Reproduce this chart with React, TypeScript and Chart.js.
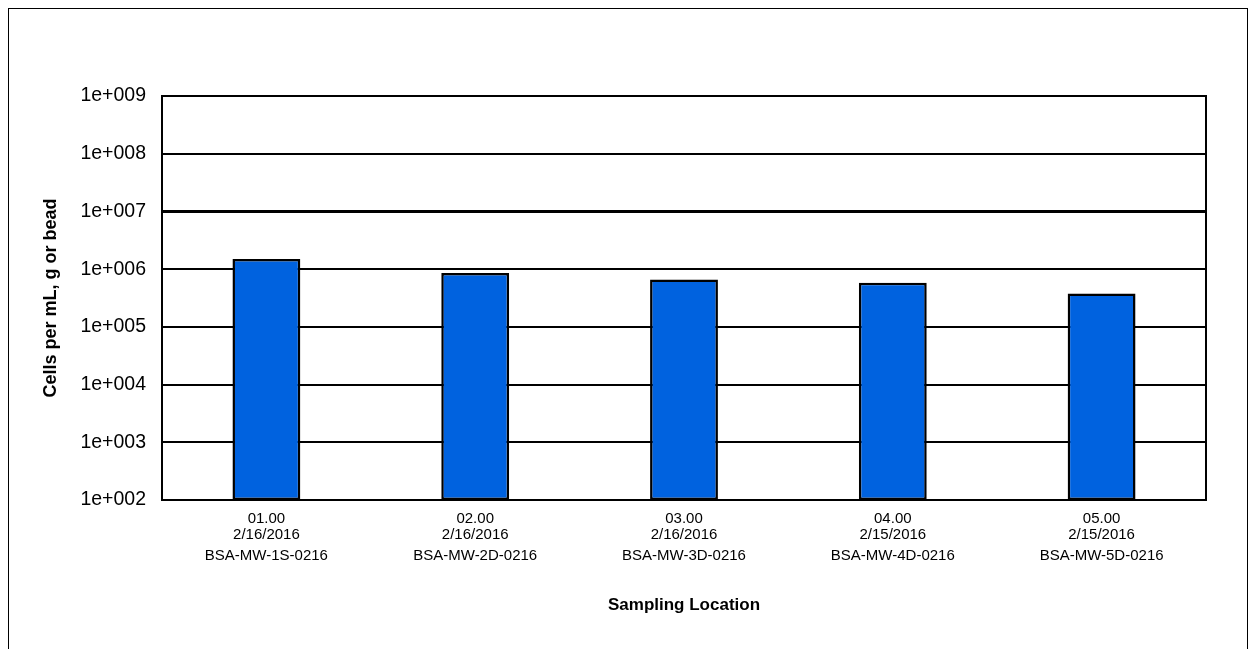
import React, { useEffect, useRef } from "react";
import { Chart, registerables } from "chart.js";

Chart.register(...registerables);

// Sampling points (well number, date) and sample IDs
const locations: string[][] = [
  ["01.00", "2/16/2016"],
  ["02.00", "2/16/2016"],
  ["03.00", "2/16/2016"],
  ["04.00", "2/15/2016"],
  ["05.00", "2/15/2016"],
];
const sampleIds: string[] = [
  "BSA-MW-1S-0216",
  "BSA-MW-2D-0216",
  "BSA-MW-3D-0216",
  "BSA-MW-4D-0216",
  "BSA-MW-5D-0216",
];
// Cell counts (cells per mL, g or bead)
const cellCounts: number[] = [1.5e6, 8.6e5, 6.6e5, 5.8e5, 3.8e5];
// Decade ticks on the log axis
const yTickValues: number[] = [1e2, 1e3, 1e4, 1e5, 1e6, 1e7, 1e8, 1e9];

const FONT = "Arial, 'Liberation Sans', Helvetica, sans-serif";

const fmtExp = (v: number) => {
  const e = Math.round(Math.log10(v));
  return "1e+" + String(e).padStart(3, "0");
};

// Draws the full rectangle around the plotting area on top of the bars
const framePlugin = {
  id: "plotFrame",
  afterDatasetsDraw(chart: any) {
    const { ctx, chartArea } = chart;
    ctx.save();
    ctx.strokeStyle = "#000";
    ctx.lineWidth = 2;
    ctx.strokeRect(chartArea.left, chartArea.top, chartArea.right - chartArea.left, chartArea.bottom - chartArea.top);
    ctx.restore();
  },
};

export default function App() {
  const canvasRef = useRef<HTMLCanvasElement | null>(null);

  useEffect(() => {
    if (!canvasRef.current) return;
    const chart = new Chart(canvasRef.current, {
      type: "bar",
      data: {
        labels: locations,
        datasets: [
          {
            data: cellCounts,
            backgroundColor: "#0062DF",
            borderColor: "#000",
            borderWidth: 2.5,
            borderSkipped: false,
            barPercentage: 0.325,
            categoryPercentage: 1,
            xAxisID: "x",
          },
        ],
      },
      plugins: [framePlugin],
      options: {
        animation: false,
        responsive: false,
        layout: { padding: { top: 87, right: 41, left: 0, bottom: 0 } },
        plugins: { legend: { display: false }, tooltip: { enabled: false } },
        scales: {
          x: {
            type: "category",
            position: "bottom",
            weight: 0,
            grid: { display: false, drawTicks: false },
            border: { display: false },
            ticks: {
              color: "#000",
              font: { family: FONT, size: 15, lineHeight: "16px" },
              padding: 11,
              maxRotation: 0,
              autoSkip: false,
            },
            afterFit(scale: any) {
              scale.height = 43;
            },
          },
          xId: {
            type: "category",
            position: "bottom",
            weight: 1,
            labels: sampleIds,
            grid: { display: false, drawTicks: false },
            border: { display: false },
            ticks: {
              color: "#000",
              font: { family: FONT, size: 15, lineHeight: "16px" },
              padding: 5,
              maxRotation: 0,
              autoSkip: false,
            },
            title: {
              display: true,
              text: "Sampling Location",
              color: "#000",
              font: { family: FONT, size: 17, weight: "bold" },
              padding: { top: 33.5, bottom: 33.5 },
            },
            afterFit(scale: any) {
              scale.height = 149 - 43;
            },
          },
          y: {
            type: "logarithmic",
            min: 1e2,
            max: 1e9,
            afterBuildTicks(scale: any) {
              scale.ticks = yTickValues.map((v) => ({ value: v, major: true }));
            },
            afterFit(scale: any) {
              scale.width = 153;
            },
            grid: {
              color: "#000",
              lineWidth: (ctx: any) => (ctx.tick && Math.abs(ctx.tick.value - 1e7) < 1 ? 3 : 2),
              drawTicks: false,
            },
            border: { display: true, color: "#000", width: 2 },
            ticks: {
              color: "#000",
              font: { family: FONT, size: 19.5 },
              padding: 16,
              callback: (v: any) => fmtExp(Number(v)),
            },
            title: {
              display: true,
              text: "Cells per mL, g or bead",
              color: "#000",
              font: { family: FONT, size: 18, weight: "bold" },
              padding: { top: 31, bottom: 31 },
            },
          },
        },
      },
    });
    return () => chart.destroy();
  }, []);

  return (
    <div
      style={{
        width: 1240,
        height: 700,
        border: "1px solid #000",
        boxSizing: "border-box",
        background: "#fff",
      }}
    >
      <canvas ref={canvasRef} width={1238} height={640} style={{ display: "block" }} />
    </div>
  );
}
